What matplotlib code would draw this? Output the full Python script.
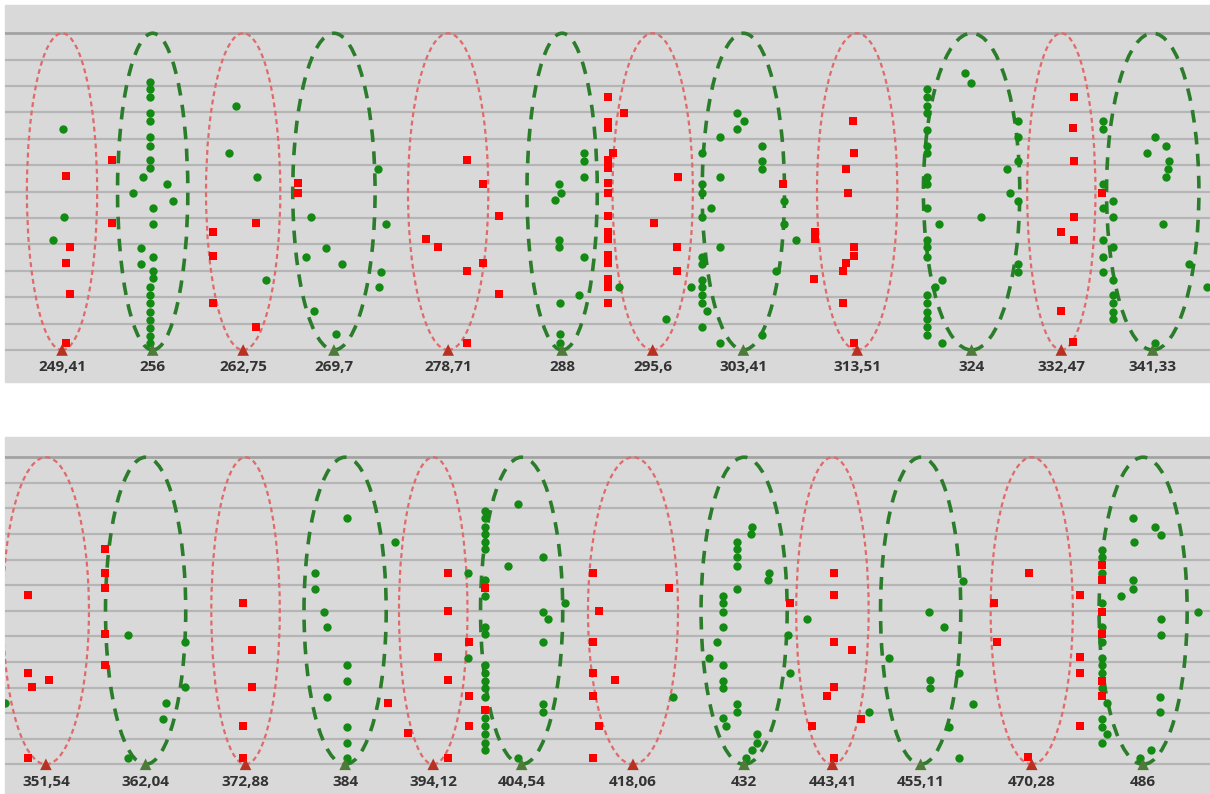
import matplotlib
matplotlib.use('Agg')
import matplotlib.pyplot as plt
from matplotlib.patches import Ellipse, Rectangle
import numpy as np

# frequencies (Hz) marked under each panel; kinds alternate red / green
REF_HZ = 249.41
top_ticks = [249.41, 256, 262.75, 269.7, 278.71, 288, 295.6, 303.41, 313.51, 324, 332.47, 341.33]
bottom_ticks = [351.54, 362.04, 372.88, 384, 394.12, 404.54, 418.06, 432, 443.41, 455.11, 470.28, 486]
tick_kinds = ['red', 'green'] * 6

# points: (cents above 249.41 Hz, level)
top_red = [
    (1.8, 6.59), (4.0, 3.89), (1.8, 3.28), (4.0, 2.12), (1.8, 0.28),
    (24.8, 7.20), (24.8, 4.80),
    (96.6, 4.80), (75.3, 4.46), (75.3, 3.56), (75.3, 1.79), (96.6, 0.88),
    (117.7, 6.31), (117.7, 5.96),
    (201.5, 7.20), (209.8, 6.29), (217.6, 5.08), (181.1, 4.19), (187.4, 3.89),
    (209.8, 3.28), (201.5, 3.01), (217.6, 2.11), (201.5, 0.28),
    (272.1, 9.57), (279.9, 8.96), (272.1, 8.65), (272.1, 8.40), (274.6, 7.47),
    (272.1, 7.20), (272.1, 6.88), (272.1, 6.31), (272.1, 5.96), (272.1, 5.08),
    (272.1, 4.48), (272.1, 4.19), (272.1, 3.60), (272.1, 3.28), (272.1, 2.68),
    (272.1, 2.40), (272.1, 1.77),
    (306.6, 6.57), (294.8, 4.80), (306.3, 3.89), (306.3, 3.01),
    (358.9, 6.29),
    (394.1, 8.67), (394.4, 7.47), (390.4, 6.86), (391.6, 5.96), (375.0, 4.46),
    (375.0, 4.19), (394.4, 3.89), (394.4, 3.56), (390.4, 3.28), (389.1, 3.01),
    (374.5, 2.68), (389.1, 1.77), (394.4, 0.28),
    (504.1, 9.57), (503.6, 8.40), (504.0, 7.17), (504.0, 5.05), (497.3, 4.46),
    (504.0, 4.17), (497.3, 1.48), (503.6, 0.32), (517.8, 5.96),
]

top_green = [
    (0.6, 8.36), (1.0, 5.05), (-4.3, 4.17),
    (43.8, 10.16), (43.8, 9.87), (43.8, 9.57), (43.8, 8.96), (43.8, 8.69),
    (43.8, 8.08), (43.8, 7.74), (43.8, 7.20), (43.8, 6.88),
    (45.3, 5.37), (45.3, 4.77), (45.3, 3.54), (45.3, 3.01), (45.3, 2.71),
    (43.8, 2.40), (43.8, 2.08), (43.8, 1.77), (43.8, 1.45), (43.8, 1.14),
    (43.8, 0.82), (43.8, 0.53), (43.8, 0.25),
    (40.2, 6.57), (35.2, 5.96), (52.1, 6.29), (55.4, 5.66), (39.2, 3.88), (39.2, 3.26),
    (86.5, 9.24), (83.3, 7.45), (97.0, 6.54), (101.4, 2.65),
    (124.0, 5.05), (131.5, 3.88), (121.5, 3.54), (139.3, 3.26), (125.5, 1.48),
    (136.5, 0.61), (157.5, 6.84), (161.2, 4.77), (158.9, 2.97), (157.9, 2.37),
    (260.0, 7.47), (260.0, 7.17), (260.0, 6.57), (260.0, 3.54), (247.7, 6.29),
    (248.7, 5.96), (245.5, 5.68), (247.7, 4.17), (247.7, 3.89), (257.5, 2.08),
    (248.0, 1.77), (248.0, 0.61), (248.0, 0.25), (277.5, 2.37), (300.6, 1.17),
    (336.3, 8.99), (339.6, 8.69), (336.0, 8.36), (327.7, 8.08), (318.7, 7.45),
    (348.4, 7.74), (348.4, 7.17), (348.4, 6.84), (327.7, 6.57), (318.7, 6.29),
    (318.7, 5.96), (323.2, 5.37), (318.7, 5.05), (327.7, 3.89), (318.7, 3.54),
    (318.7, 3.26), (318.7, 2.65), (318.7, 2.37), (318.7, 2.08), (318.7, 1.77),
    (318.7, 0.86), (321.0, 1.48), (313.1, 2.37), (327.7, 0.25), (348.4, 0.57),
    (355.4, 3.01), (359.7, 5.66), (359.7, 4.77), (365.4, 4.17),
    (430.6, 9.87), (430.6, 9.57), (430.6, 9.24), (430.6, 8.96), (430.6, 8.33),
    (430.6, 7.74), (430.6, 7.45), (430.6, 6.57), (430.6, 6.29), (430.6, 5.37),
    (430.6, 4.17), (430.6, 3.89), (430.6, 3.54), (430.6, 2.08), (430.6, 1.77),
    (430.6, 1.45), (430.6, 1.16), (430.6, 0.86), (430.6, 0.57),
    (449.7, 10.48), (452.5, 10.13), (436.9, 4.77), (434.8, 2.37), (438.1, 2.65),
    (438.1, 0.28), (457.7, 5.05), (476.2, 8.67), (476.2, 8.08), (476.2, 7.17),
    (476.2, 5.66), (476.2, 3.26), (476.2, 2.97), (470.5, 6.84), (472.1, 5.96),
    (518.3, 8.67), (518.3, 8.36), (518.3, 6.29), (518.3, 5.37), (518.3, 4.17),
    (518.3, 3.54), (518.3, 2.97),
    (523.2, 5.66), (523.2, 5.05), (523.2, 3.89), (523.2, 2.65), (523.2, 2.08),
    (523.2, 1.77), (523.2, 1.45), (523.2, 1.16),
    (544.3, 8.08), (540.2, 7.45), (549.8, 7.74), (551.4, 7.17), (550.9, 6.84),
    (549.8, 6.57), (548.1, 4.77), (561.4, 3.26), (570.4, 2.37), (544.3, 0.28),
]

bottom_red = [
    (584.9, 6.60), (584.9, 3.58), (587.1, 3.01), (595.7, 3.29), (584.9, 0.26),
    (624.5, 8.41), (624.5, 7.49), (624.5, 6.89), (624.5, 5.09), (624.5, 3.89),
    (695.1, 6.32), (695.1, 1.50), (695.1, 0.26), (699.4, 4.47), (699.4, 3.01),
    (768.9, 2.38),
    (779.4, 1.21), (799.9, 7.49), (799.9, 5.99), (799.9, 3.29), (799.9, 0.26),
    (810.6, 4.79), (810.6, 2.67), (810.6, 1.50), (794.8, 4.18),
    (818.6, 6.88), (818.6, 2.12),
    (874.0, 7.49), (874.0, 4.79), (874.0, 3.55), (874.0, 2.67), (874.0, 0.26),
    (876.9, 5.99), (876.9, 1.50), (885.1, 3.29), (912.8, 6.88),
    (974.5, 6.32),
    (997.0, 7.49), (997.0, 6.60), (997.0, 4.79), (997.0, 3.01), (997.0, 0.26),
    (1006.3, 4.47), (993.5, 2.67), (985.7, 1.50), (1010.9, 1.77),
    (1078.9, 6.32), (1080.1, 4.79), (1096.8, 7.49), (1122.7, 6.60), (1122.7, 4.18),
    (1122.7, 3.55), (1122.7, 1.50), (1096.3, 0.30),
    (1133.8, 7.79), (1133.8, 7.20), (1133.8, 5.96), (1133.8, 5.09), (1133.8, 3.27),
    (1133.8, 2.67),
]

bottom_green = [
    (573.3, 2.38),
    (636.4, 5.07), (665.5, 4.78), (665.5, 3.01), (655.5, 2.38), (654.2, 1.76), (636.4, 0.23),
    (748.0, 9.61), (748.0, 3.88), (748.0, 3.27), (748.0, 1.47), (748.0, 0.85), (748.0, 0.23),
    (772.6, 8.70), (731.8, 7.49), (731.8, 6.86), (736.4, 5.96), (737.7, 5.38), (738.0, 2.64),
    (809.8, 7.49), (809.8, 4.17),
    (818.6, 9.91), (818.6, 9.61), (818.6, 9.28), (818.6, 9.00), (818.6, 8.70),
    (818.6, 8.40), (818.6, 7.20), (818.6, 6.58), (818.6, 5.38), (818.6, 5.09),
    (818.6, 3.88), (818.6, 3.58), (818.6, 3.27), (818.6, 2.97), (818.6, 2.64),
    (818.6, 1.80), (818.6, 1.50), (818.6, 1.18), (818.6, 0.85), (818.6, 0.56),
    (835.3, 10.17), (835.3, 0.23), (830.5, 7.76), (848.4, 8.09), (848.4, 5.96),
    (848.4, 4.79), (848.4, 2.36), (848.4, 2.06), (859.5, 6.29), (851.0, 5.66),
    (914.9, 2.64),
    (947.2, 8.70), (947.2, 8.40), (947.2, 8.09), (947.2, 7.76), (947.2, 6.86),
    (947.2, 2.36), (947.2, 2.06), (954.9, 9.28), (954.4, 9.00),
    (940.4, 6.58), (940.4, 6.29), (940.4, 5.96), (940.4, 5.38), (940.4, 3.88),
    (940.4, 3.27), (940.4, 2.97), (940.4, 1.80), (941.8, 1.50),
    (963.9, 7.49), (963.4, 7.20), (937.3, 4.79), (933.2, 4.17), (957.8, 1.18),
    (957.8, 0.85), (954.9, 0.56), (952.0, 0.23), (973.6, 5.05), (974.5, 3.55),
    (983.3, 5.66), (1015.0, 2.06), (1025.2, 4.17),
    (1063.0, 7.17), (1045.5, 5.96), (1053.2, 5.38), (1061.0, 3.55), (1046.0, 3.29),
    (1046.0, 2.97), (1068.2, 2.36), (1055.6, 1.47), (1060.7, 0.23),
    (1133.8, 8.37), (1133.8, 8.09), (1133.8, 7.49), (1133.8, 6.29), (1133.8, 5.38),
    (1133.8, 4.79), (1133.8, 4.17), (1133.8, 3.88), (1133.8, 3.55), (1133.8, 2.97),
    (1133.8, 1.76), (1133.8, 1.47), (1133.8, 0.85),
    (1136.3, 2.38), (1136.3, 1.18), (1149.9, 9.61), (1149.9, 7.20), (1149.9, 6.86),
    (1150.4, 8.70), (1161.0, 9.28), (1163.9, 8.98), (1143.6, 6.58), (1163.9, 5.66),
    (1163.9, 5.07), (1163.6, 2.64), (1163.6, 2.06), (1158.8, 0.56), (1153.3, 0.23),
    (1183.1, 5.96),
]

# ellipse widths in cents (style)
top_widths = [35, 35, 37, 41, 40, 35, 40, 41, 40, 48, 34, 46]
bottom_widths = [44, 41, 35, 42, 35, 42, 46, 44, 37, 41, 42, 45]

BG = '#d9d9d9'
GRID = '#b5b5b5'
RED = '#ff0000'
GREEN = '#138a13'
W, H = 1210, 794


def cents(f):
    return 1200 * np.log2(np.asarray(f) / REF_HZ)


fig = plt.figure(figsize=(W / 100, H / 100), dpi=100)
fig.patch.set_facecolor('white')

# gray panel backgrounds (chart areas), behind the axes
fig.patches.append(Rectangle((5 / W, 1 - 382 / H), 1 - 5 / W, 377 / H,
                             transform=fig.transFigure, color=BG, zorder=-5))
fig.patches.append(Rectangle((5 / W, 0), 1 - 5 / W, 1 - 437 / H,
                             transform=fig.transFigure, color=BG, zorder=-5))

panels = [
    # (ticks, red, green, widths, axes px (top, bottom), xlim, ylim)
    (top_ticks, top_red, top_green, top_widths, (5, 352), (-28.4, 571.7), (-0.076, 13.07)),
    (bottom_ticks, bottom_red, bottom_green, bottom_widths, (437, 766), (573.3, 1189.1), (-0.066, 12.79)),
]

for ticks, red, green, widths, (ptop, pbot), xlim, ylim in panels:
    ax = fig.add_axes([5 / W, 1 - pbot / H, 1 - 5 / W, (pbot - ptop) / H])
    ax.set_facecolor(BG)
    ax.set_xlim(*xlim)
    ax.set_ylim(*ylim)
    for s in ax.spines.values():
        s.set_visible(False)
    ax.set_xticks([])
    ax.set_yticks([])

    for lvl in range(13):
        if lvl == 12:
            ax.axhline(lvl, color='#a3a3a3', lw=2.0, zorder=1)
        else:
            ax.axhline(lvl, color=GRID, lw=1.6, zorder=1)

    tc = cents(ticks)
    for c, kind, w in zip(tc, tick_kinds, widths):
        if kind == 'red':
            e = Ellipse((c, 6), w, 12, fill=False, ec='#e06a6a', lw=1.6,
                        ls=(0, (2.2, 1.6)), zorder=2)
        else:
            e = Ellipse((c, 6), w, 12, fill=False, ec='#2b7d2b', lw=2.6,
                        ls=(0, (3.5, 2.6)), zorder=2)
        ax.add_patch(e)

    gx, gy = zip(*green)
    ax.scatter(gx, gy, s=36, marker='o', color=GREEN, lw=0, zorder=3)
    rx, ry = zip(*red)
    ax.scatter(rx, ry, s=30, marker='s', color=RED, lw=0, zorder=4)

    tri_colors = ['#b83224' if k == 'red' else '#4f7a3a' for k in tick_kinds]
    ax.scatter(tc, np.zeros(len(tc)), s=70, marker='^', c=tri_colors, lw=0,
               zorder=5, clip_on=False)

    for c, f in zip(tc, ticks):
        ax.annotate(f'{f:g}'.replace('.', ','), xy=(c, 0), xytext=(0, -12.5),
                    textcoords='offset points', ha='center', va='center',
                    fontsize=11, fontweight='bold', color='#333333',
                    family=['Open Sans', 'DejaVu Sans'], annotation_clip=False)

fig.savefig('out.png', dpi=100, facecolor=fig.get_facecolor())
